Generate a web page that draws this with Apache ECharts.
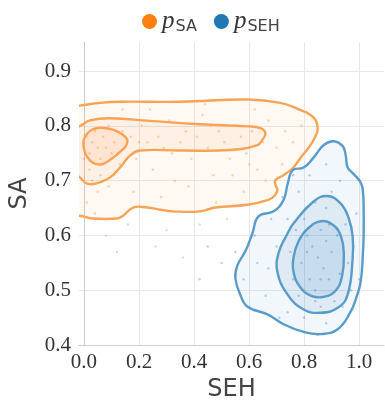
<!DOCTYPE html>
<html>
<head>
<meta charset="utf-8">
<script src="https://cdn.jsdelivr.net/npm/echarts@6/dist/echarts.min.js"></script>
<style>
  html, body { margin: 0; padding: 0; background: #fff; }
  #chart { width: 385px; height: 407px; }
</style>
</head>
<body>
<div id="chart"></div>
<script>
// tick labels
const xTicks = [0.0, 0.2, 0.4, 0.6, 0.8, 1.0];
const yTicks = [0.4, 0.5, 0.6, 0.7, 0.8, 0.9];

// KDE contour lines, [SEH, SA]
const saOuter = [[-0.03,0.837],[-0.015,0.837],[0.058,0.842],[0.131,0.844],[0.35,0.844],[0.597,0.848],[0.714,0.842],[0.776,0.831],[0.831,0.817],[0.849,0.796],[0.838,0.778],[0.816,0.760],[0.787,0.742],[0.761,0.724],[0.725,0.710],[0.696,0.701],[0.696,0.692],[0.703,0.683],[0.692,0.672],[0.670,0.665],[0.594,0.656],[0.477,0.651],[0.423,0.644],[0.322,0.644],[0.277,0.647],[0.230,0.651],[0.179,0.651],[0.142,0.636],[0.120,0.631],[0.033,0.631],[-0.015,0.636],[-0.03,0.636]];
const saMid = [[-0.03,0.801],[-0.018,0.799],[0.022,0.810],[0.095,0.814],[0.240,0.809],[0.423,0.803],[0.594,0.799],[0.641,0.796],[0.659,0.787],[0.648,0.774],[0.630,0.765],[0.532,0.756],[0.35,0.755],[0.204,0.755],[0.168,0.746],[0.131,0.724],[0.095,0.706],[0.058,0.697],[0.015,0.694],[-0.015,0.706],[-0.03,0.712]];
const saInner = [[0.000,0.776],[0.020,0.790],[0.050,0.796],[0.090,0.795],[0.125,0.789],[0.150,0.780],[0.158,0.772],[0.150,0.762],[0.125,0.750],[0.095,0.738],[0.065,0.730],[0.035,0.732],[0.012,0.743],[0.000,0.758]];

const sehOuter = [[0.907,0.772],[0.940,0.763],[0.951,0.746],[0.958,0.724],[0.980,0.712],[1.005,0.697],[1.013,0.683],[1.016,0.652],[1.016,0.599],[1.013,0.563],[1.005,0.515],[0.987,0.483],[0.969,0.461],[0.922,0.429],[0.860,0.420],[0.798,0.424],[0.725,0.438],[0.667,0.456],[0.594,0.470],[0.568,0.492],[0.550,0.522],[0.557,0.545],[0.587,0.572],[0.612,0.604],[0.634,0.635],[0.689,0.644],[0.725,0.665],[0.740,0.694],[0.758,0.719],[0.798,0.724],[0.834,0.742],[0.871,0.765]];
const sehMid = [[0.885,0.672],[0.933,0.658],[0.962,0.631],[0.976,0.599],[0.976,0.558],[0.958,0.492],[0.922,0.468],[0.860,0.459],[0.798,0.465],[0.740,0.492],[0.703,0.533],[0.707,0.568],[0.740,0.604],[0.761,0.622],[0.834,0.662]];
const sehInner = [[0.860,0.626],[0.905,0.619],[0.934,0.598],[0.944,0.566],[0.938,0.527],[0.914,0.499],[0.871,0.488],[0.825,0.490],[0.785,0.506],[0.762,0.532],[0.762,0.562],[0.780,0.590],[0.812,0.612]];

// sample points (hand placed from the picture)
const saPoints = [[0.01,0.78],[0.02,0.75],[0.03,0.77],[0.04,0.79],[0.05,0.76],[0.06,0.74],[0.07,0.78],[0.08,0.76],[0.09,0.80],[0.10,0.75],[0.02,0.72],[0.03,0.70],[0.05,0.68],[0.01,0.66],[0.04,0.64],[0.06,0.71],[0.11,0.77],[0.12,0.79],[0.13,0.73],[0.15,0.76],[0.17,0.78],[0.19,0.74],[0.21,0.80],[0.23,0.77],[0.25,0.72],[0.27,0.78],[0.29,0.76],[0.31,0.81],[0.33,0.70],[0.35,0.77],[0.37,0.79],[0.39,0.74],[0.41,0.78],[0.43,0.82],[0.45,0.76],[0.47,0.71],[0.49,0.79],[0.51,0.77],[0.53,0.74],[0.55,0.80],[0.57,0.78],[0.59,0.75],[0.61,0.79],[0.63,0.72],[0.65,0.77],[0.67,0.81],[0.70,0.76],[0.73,0.79],[0.76,0.77],[0.79,0.80],[0.18,0.68],[0.28,0.67],[0.38,0.69],[0.48,0.66],[0.58,0.68],[0.14,0.83],[0.24,0.83],[0.44,0.84],[0.62,0.83],[0.08,0.60],[0.16,0.62],[0.30,0.61],[0.36,0.56],[0.26,0.58],[0.12,0.57],[0.42,0.62],[0.52,0.63],[0.66,0.70],[0.72,0.73],[0.03,0.81],[0.07,0.73],[0.00,0.74],[0.09,0.69],[0.11,0.71],[0.14,0.79],[0.20,0.77],[0.32,0.75],[0.46,0.80],[0.54,0.71],[0.60,0.73]];
const sehPoints = [[0.85,0.56],[0.83,0.58],[0.87,0.54],[0.88,0.59],[0.82,0.52],[0.86,0.61],[0.90,0.57],[0.84,0.50],[0.89,0.52],[0.81,0.60],[0.79,0.55],[0.92,0.60],[0.80,0.63],[0.88,0.65],[0.93,0.53],[0.86,0.47],[0.78,0.49],[0.91,0.48],[0.75,0.57],[0.77,0.61],[0.84,0.66],[0.90,0.68],[0.95,0.62],[0.96,0.55],[0.94,0.47],[0.88,0.44],[0.80,0.45],[0.72,0.51],[0.70,0.58],[0.74,0.63],[0.78,0.68],[0.82,0.71],[0.88,0.73],[0.93,0.70],[0.98,0.58],[0.97,0.50],[0.85,0.42],[0.74,0.46],[0.66,0.49],[0.63,0.55],[0.62,0.60],[0.68,0.63],[0.72,0.67],[0.76,0.71],[0.58,0.52],[0.60,0.47],[0.55,0.57],[0.50,0.55],[0.45,0.58],[0.42,0.52],[0.99,0.64],[1.00,0.52],[0.67,0.54],[0.71,0.45],[0.83,0.62],[0.86,0.52],[0.81,0.57],[0.89,0.62],[0.84,0.48],[0.76,0.52]];

const ORANGE = '#ff7f0e';
const BLUE = '#1f77b4';
const ORANGE_LINE = '#f9a356';
const BLUE_LINE = '#5a9cc9';

// a contour (closed or open at the left edge), fill and/or outline, drawn through the axes
function shape(poly, closed, fillColor, alpha, stroke, z) {
    return {
        type: 'custom',
        data: [0],
        silent: true,
        clip: true,
        z: z,
        renderItem: function (params, api) {
            const pts = poly.map(p => api.coord(p));
            const isFill = !!fillColor;
            return {
                type: (closed || isFill) ? 'polygon' : 'polyline',
                shape: {points: pts, smooth: 0.45},
                style: isFill
                    ? {fill: fillColor, opacity: alpha, stroke: null}
                    : {fill: null, stroke: stroke, lineWidth: 2.4}
            };
        }
    };
}

const chart = echarts.init(document.getElementById('chart'));
chart.setOption({
    animation: false,
    backgroundColor: '#fff',
    grid: {left: 79, right: 1, top: 42, bottom: 56},
    legend: {
        left: 137,
        top: 4,
        itemWidth: 15,
        itemHeight: 15,
        itemGap: 17,
        data: [
            {name: 'SA', icon: 'circle', itemStyle: {color: ORANGE, opacity: 1}},
            {name: 'SEH', icon: 'circle', itemStyle: {color: BLUE, opacity: 1}}
        ],
        formatter: name => '{p|p}{s|' + name + '}',
        textStyle: {
            rich: {
                p: {fontFamily: 'Liberation Serif', fontStyle: 'italic', fontSize: 25, color: '#333'},
                s: {fontFamily: 'DejaVu Sans', fontSize: 16, color: '#444', padding: [10, 0, 0, 1]}
            }
        }
    },
    xAxis: {
        type: 'value',
        min: -0.018,
        max: 1.09,
        name: 'SEH',
        nameLocation: 'middle',
        nameGap: 28,
        nameTextStyle: {fontFamily: 'DejaVu Sans', fontSize: 24, color: '#444'},
        axisLine: {show: true, lineStyle: {color: '#cccccc', width: 1}},
        axisTick: {show: false, customValues: xTicks},
        axisLabel: {
            customValues: xTicks,
            margin: 7,
            fontFamily: 'Liberation Serif',
            fontSize: 21,
            color: '#333',
            formatter: v => v.toFixed(1)
        },
        splitLine: {show: true, lineStyle: {color: '#e8e8e8', width: 1}}
    },
    yAxis: {
        type: 'value',
        min: 0.4,
        max: 0.953,
        name: 'SA',
        nameLocation: 'middle',
        nameRotate: 90,
        nameGap: 47,
        nameTextStyle: {fontFamily: 'DejaVu Sans', fontSize: 24, color: '#444'},
        axisLine: {show: true, lineStyle: {color: '#cccccc', width: 1}},
        axisTick: {show: false, customValues: yTicks},
        axisLabel: {
            customValues: yTicks,
            margin: 8,
            fontFamily: 'Liberation Serif',
            fontSize: 21,
            color: '#333',
            formatter: v => v.toFixed(1)
        },
        splitLine: {show: true, lineStyle: {color: '#e8e8e8', width: 1}}
    },
    series: [
        shape(saOuter, false, ORANGE, 0.05, null, 1),
        shape(saMid, false, ORANGE, 0.06, null, 1),
        shape(saInner, true, ORANGE, 0.09, null, 1),
        shape(sehOuter, true, BLUE, 0.06, null, 1),
        shape(sehMid, true, BLUE, 0.09, null, 1),
        shape(sehInner, true, BLUE, 0.12, null, 1),
        {
            name: 'SA',
            type: 'scatter',
            data: saPoints,
            symbolSize: 2.5,
            z: 2,
            itemStyle: {color: ORANGE, opacity: 0.3}
        },
        {
            name: 'SEH',
            type: 'scatter',
            data: sehPoints,
            symbolSize: 2.5,
            z: 2,
            itemStyle: {color: BLUE, opacity: 0.3}
        },
        shape(saOuter, false, null, 0, ORANGE_LINE, 4),
        shape(saMid, false, null, 0, ORANGE_LINE, 4),
        shape(saInner, true, null, 0, ORANGE_LINE, 4),
        shape(sehOuter, true, null, 0, BLUE_LINE, 4),
        shape(sehMid, true, null, 0, BLUE_LINE, 4),
        shape(sehInner, true, null, 0, BLUE_LINE, 4)
    ]
});
</script>
</body>
</html>
